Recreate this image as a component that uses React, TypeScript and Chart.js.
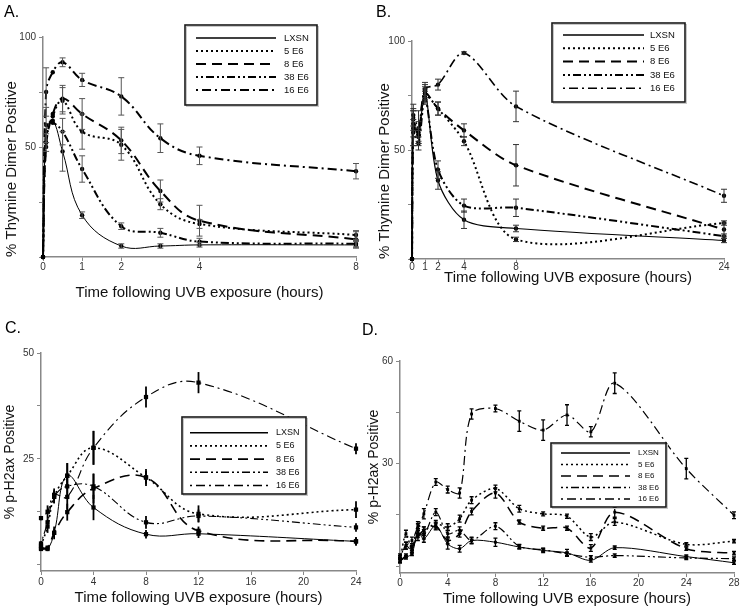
import React, { useEffect, useRef } from "react";
import { Chart, registerables } from "chart.js";

Chart.register(...registerables);

const FONT = "'Liberation Sans', Arial, Helvetica, sans-serif";
const NARROW = "'Liberation Sans Narrow', 'Liberation Sans', Arial, sans-serif";

const seriesLabels = ["LXSN", "5 E6", "8 E6", "38 E6", "16 E6"];

// ---------- Panel A: thymine dimers, 0-8 h ----------
const timeA = [0, 0.08, 0.25, 0.5, 1, 2, 3, 4, 8];
const lxsnA = [0, 57, 62, 48, 19, 5, 5, 5.5, 5.5];
const e5A = [0, 52, 64, 71, 57, 51, 24, 15, 10];
const e8A = [0, 50, 65, 72, 65, 53, 30, 16.5, 8];
const e38A = [0, 60, 61, 57, 40, 14, 11, 7, 6];
const e16A = [0, 75, 84, 88.5, 80.5, 73, 54, 46, 39];
const errLxsnA = [0, 0, 0, 9, 1.5, 1, 1, 1, 1.5];
const err5A = [0, 4, 0, 6, 8, 7, 2.5, 2, 2];
const err8A = [0, 0, 0, 6, 7, 6, 5, 7, 3.5];
const err38A = [0, 8, 0, 6, 6, 1.5, 2, 1.5, 1.5];
const err16A = [0, 11, 0, 2, 3, 8.5, 6.5, 4, 3.5];
const xTicksA = [0, 1, 2, 4, 8];
const yTicksA = [0, 25, 50, 75, 100];
const yLabelsA = [50, 100];

// ---------- Panel B: thymine dimers, 0-24 h ----------
const timeB = [0, 0.1, 0.5, 1, 2, 4, 8, 24];
const lxsnB = [0, 62, 57, 77, 36, 18, 14, 8.5];
const e5B = [0, 64, 56, 75, 69, 54, 9, 16.5];
const e8B = [0, 60, 58, 76, 69, 59, 43, 13.5];
const e38B = [0, 58, 53, 74, 41, 24.5, 23.5, 10.5];
const e16B = [0, 66, 60, 78, 80, 94.5, 70, 29];
const errLxsnB = [0, 6, 3, 3, 4, 4, 1.5, 1];
const err5B = [0, 5, 3, 3, 3, 2, 1, 1];
const err8B = [0, 8, 5, 3, 3, 3, 9.5, 3];
const err38B = [0, 6, 3, 3, 4, 3, 4, 1];
const err16B = [0, 5, 8, 3, 2.5, 0.5, 7, 3];
const xTicksB = [0, 1, 2, 4, 8, 24];
const yTicksB = [0, 25, 50, 75, 100];
const yLabelsB = [50, 100];

// ---------- Panel C: p-H2ax, 0-24 h ----------
const timeC = [0, 0.5, 1, 2, 4, 8, 12, 24];
const lxsnC = [3.7, 3.7, 7.5, 21, 13.5, 7.2, 7.3, 5.5];
const e5C = [4.5, 9, 16, 21, 27.6, 20.6, 12, 13];
const e8C = [4, 4, 7.5, 12.4, 18, 20.6, 8, 5.5];
const e38C = [5, 10, 16, 18.5, 18.5, 10, 11.5, 8.8];
const e16C = [11, 12.5, 16.5, 16, 27.6, 39.6, 43, 27.4];
const errLxsnC = [0.5, 0.5, 1, 3, 3, 1, 1, 1];
const err5C = [0.5, 1.5, 1.5, 3, 4, 2, 2, 2];
const err8C = [0.5, 0.5, 1.5, 2, 3.5, 1.5, 1, 1];
const err38C = [0.5, 1, 1.5, 3, 3, 1.5, 1.5, 1];
const err16C = [0.5, 1.5, 1.5, 3, 4, 2.5, 2.5, 1.3];
const xTicksC = [0, 4, 8, 12, 16, 20, 24];
const yTicksC = [0, 12.5, 25, 37.5, 50];
const yLabelsC = [25, 50];

// ---------- Panel D: p-H2ax, 0-28 h ----------
const timeD = [0, 0.5, 1, 1.5, 2, 3, 4, 5, 6, 8, 10, 12, 14, 16, 18, 24, 28];
const lxsnD = [1.5, 2.6, 3.6, 10, 8, 11.9, 6.5, 5.1, 7.5, 7, 5.6, 4.6, 3.9, 1.7, 5.4, 2.8, 1];
const e5D = [1.7, 9.5, 5, 12, 10.5, 12.4, 11.4, 13.9, 19.3, 22.7, 16.8, 15.3, 14.6, 8.5, 12.9, 6.4, 7.3];
const e8D = [1.5, 3.1, 5.6, 8.5, 10.5, 11.6, 7.5, 9.5, 16, 21.4, 12.9, 11.1, 11.1, 5.3, 15.8, 5.1, 3.8];
const e38D = [2.6, 6, 4.6, 9.5, 9, 15.8, 9.5, 10.5, 7.5, 11.7, 5.8, 4.8, 3.6, 2.6, 3.1, 2.4, 2.2];
const e16D = [3.1, 6, 7.5, 11.4, 15.3, 24.6, 22.4, 21.4, 44.5, 46.1, 42.4, 39.8, 44.2, 39.3, 53.5, 28.5, 14.9];
const errLxsnD = [0.5, 0.5, 0.5, 1, 1, 1, 1.5, 1, 0.8, 1.2, 0.6, 0.6, 1, 0.5, 0.5, 0.5, 0.5];
const err5D = [0.5, 1, 1, 1, 1, 1, 1, 1, 1, 1, 1, 0.6, 0.6, 1, 1, 0.5, 0.5];
const err8D = [0.5, 0.5, 1, 1, 1, 1, 1, 1, 1, 1.5, 0.6, 0.6, 0.6, 1, 1.5, 0.5, 0.5];
const err38D = [0.5, 1, 1, 1, 1, 1, 1, 1, 1, 1, 0.6, 0.5, 0.5, 0.5, 0.5, 0.5, 0.5];
const err16D = [0.5, 1, 1, 1, 1.5, 1, 1, 1.5, 1.5, 1, 3, 3, 3, 1.5, 3, 3, 1];
const xTicksD = [0, 4, 8, 12, 16, 20, 24, 28];
const yTicksD = [0, 15, 30, 45, 60];
const yLabelsD = [30, 60];

const X_TITLE = "Time following UVB exposure (hours)";

// line dash styles per series (LXSN, 5 E6, 8 E6, 38 E6, 16 E6)
const DASHES: number[][] = [[], [2, 3], [10, 6], [2, 3, 2, 3, 8, 3], [2, 4, 9, 4]];

const errorBarPlugin = {
  id: "errorBars",
  afterDatasetsDraw(chart: any, _args: any, opts: any) {
    const ctx = chart.ctx;
    const yScale = chart.scales.y;
    ctx.save();
    ctx.setLineDash([]);
    ctx.strokeStyle = opts.color;
    ctx.lineWidth = opts.width;
    chart.data.datasets.forEach((ds: any, i: number) => {
      const meta = chart.getDatasetMeta(i);
      const errs: number[] = ds.errors || [];
      meta.data.forEach((pt: any, j: number) => {
        const e = errs[j];
        if (!e) return;
        const v = ds.data[j].y;
        const yt = yScale.getPixelForValue(v + e);
        const yb = yScale.getPixelForValue(v - e);
        ctx.beginPath();
        ctx.moveTo(pt.x, yt);
        ctx.lineTo(pt.x, yb);
        if (opts.cap > 0) {
          ctx.moveTo(pt.x - opts.cap, yt);
          ctx.lineTo(pt.x + opts.cap, yt);
          ctx.moveTo(pt.x - opts.cap, yb);
          ctx.lineTo(pt.x + opts.cap, yb);
        }
        ctx.stroke();
      });
    });
    ctx.restore();
  },
};

const boxLegendPlugin = {
  id: "boxLegend",
  afterDraw(chart: any, _args: any, o: any) {
    const ctx = chart.ctx;
    ctx.save();
    ctx.fillStyle = "#ffffff";
    ctx.fillRect(o.x, o.y, o.w, o.h);
    ctx.setLineDash([]);
    ctx.strokeStyle = "#c8c8c8";
    ctx.lineWidth = 1;
    ctx.strokeRect(o.x + 1.5, o.y + 1.5, o.w, o.h);
    ctx.strokeStyle = "#1a1a1a";
    ctx.lineWidth = 1.6;
    ctx.strokeRect(o.x, o.y, o.w, o.h);
    chart.data.datasets.forEach((ds: any, i: number) => {
      const y = o.rowY + i * o.rowStep;
      ctx.setLineDash(ds.borderDash || []);
      ctx.lineWidth = Math.max(1.5, ds.borderWidth);
      ctx.strokeStyle = "#000";
      ctx.beginPath();
      ctx.moveTo(o.lineX0, y);
      ctx.lineTo(o.lineX1, y);
      ctx.stroke();
      ctx.setLineDash([]);
      ctx.fillStyle = "#111";
      ctx.font = `${o.fontSize}px ${NARROW}`;
      ctx.textBaseline = "middle";
      ctx.textAlign = "left";
      ctx.fillText(ds.label, o.textX, y);
    });
    ctx.restore();
  },
};

type PanelSpec = {
  rect: { left: number; top: number; w: number; h: number };
  letter: string;
  letterPad: { top: number; bottom: number };
  padLeft: number;
  padRight: number;
  yWidth: number;
  xHeight: number;
  times: number[];
  values: number[][];
  errors: number[][];
  xMax: number;
  xTicks: number[];
  yMin: number;
  yMax: number;
  yTicks: number[];
  yLabels: number[];
  yTitle: string;
  yTitleSize: number;
  yTitleAlign: "start" | "center" | "end";
  yTitlePad: number;
  xTitlePad: number;
  xTickPad: number;
  widths: number[];
  pointStyle: string;
  pointRadius: number;
  tension: number;
  err: { color: string; width: number; cap: number };
  legend: any;
};

const panels: PanelSpec[] = [
  {
    rect: { left: 0, top: 0, w: 371, h: 305 },
    letter: "A.",
    letterPad: { top: 3, bottom: 14.8 },
    padLeft: 4,
    padRight: 15,
    yWidth: 39,
    xHeight: 48,
    times: timeA,
    values: [lxsnA, e5A, e8A, e38A, e16A],
    errors: [errLxsnA, err5A, err8A, err38A, err16A],
    xMax: 8,
    xTicks: xTicksA,
    yMin: 0,
    yMax: 100,
    yTicks: yTicksA,
    yLabels: yLabelsA,
    yTitle: "% Thymine Dimer Positive",
    yTitleSize: 15,
    yTitleAlign: "start",
    yTitlePad: -1,
    xTitlePad: 3,
    xTickPad: 0,
    widths: [1, 2, 2, 2, 2],
    pointStyle: "circle",
    pointRadius: 2.2,
    tension: 0.4,
    err: { color: "#555", width: 1, cap: 3 },
    legend: { x: 185, y: 25, w: 132, h: 80, lineX0: 196, lineX1: 276, textX: 284, rowY: 38, rowStep: 13, fontSize: 9.5 },
  },
  {
    rect: { left: 371, top: 0, w: 371, h: 305 },
    letter: "B.",
    letterPad: { top: 3, bottom: 18.8 },
    padLeft: 5,
    padRight: 18,
    yWidth: 36,
    xHeight: 46,
    times: timeB,
    values: [lxsnB, e5B, e8B, e38B, e16B],
    errors: [errLxsnB, err5B, err8B, err38B, err16B],
    xMax: 24,
    xTicks: xTicksB,
    yMin: 0,
    yMax: 100,
    yTicks: yTicksB,
    yLabels: yLabelsB,
    yTitle: "% Thymine Dimer Positive",
    yTitleSize: 15,
    yTitleAlign: "start",
    yTitlePad: 0,
    xTitlePad: 18,
    xTickPad: -2,
    widths: [1.2, 2, 2, 2, 1.6],
    pointStyle: "circle",
    pointRadius: 2.2,
    tension: 0.3,
    err: { color: "#333", width: 1, cap: 3 },
    legend: { x: 181, y: 23, w: 133, h: 79, lineX0: 192, lineX1: 273, textX: 279, rowY: 35, rowStep: 13.3, fontSize: 9.5 },
  },
  {
    rect: { left: 0, top: 305, w: 371, h: 306 },
    letter: "C.",
    letterPad: { top: 13.9, bottom: 14.9 },
    padLeft: 5,
    padRight: 15,
    yWidth: 36,
    xHeight: 40,
    times: timeC,
    values: [lxsnC, e5C, e8C, e38C, e16C],
    errors: [errLxsnC, err5C, err8C, err38C, err16C],
    xMax: 24,
    xTicks: xTicksC,
    yMin: -1.5,
    yMax: 50,
    yTicks: yTicksC,
    yLabels: yLabelsC,
    yTitle: "% p-H2ax Positive",
    yTitleSize: 14,
    yTitleAlign: "center",
    yTitlePad: -3.4,
    xTitlePad: 4,
    xTickPad: 1,
    widths: [1, 1.6, 1.6, 1.1, 1.1],
    pointStyle: "rect",
    pointRadius: 3,
    tension: 0.4,
    err: { color: "#000", width: 1.8, cap: 0 },
    legend: { x: 182, y: 112, w: 124, h: 77, lineX0: 190, lineX1: 268, textX: 276, rowY: 127.7, rowStep: 13.2, fontSize: 9 },
  },
  {
    rect: { left: 362, top: 305, w: 380, h: 306 },
    letter: "D.",
    letterPad: { top: 15.9, bottom: 20.9 },
    padLeft: 0,
    padRight: 8,
    yWidth: 38,
    xHeight: 38,
    times: timeD,
    values: [lxsnD, e5D, e8D, e38D, e16D],
    errors: [errLxsnD, err5D, err8D, err38D, err16D],
    xMax: 28,
    xTicks: xTicksD,
    yMin: -2,
    yMax: 60,
    yTicks: yTicksD,
    yLabels: yLabelsD,
    yTitle: "% p-H2ax Positive",
    yTitleSize: 14,
    yTitleAlign: "center",
    yTitlePad: 3.6,
    xTitlePad: 3,
    xTickPad: 0,
    widths: [1, 1.5, 1.5, 1.2, 1.2],
    pointStyle: "rect",
    pointRadius: 2,
    tension: 0.3,
    err: { color: "#000", width: 1.3, cap: 2 },
    legend: { x: 189, y: 138, w: 115, h: 64, lineX0: 199, lineX1: 268, textX: 276, rowY: 148, rowStep: 11.5, fontSize: 8 },
  },
];

function buildConfig(p: PanelSpec): any {
  const datasets = seriesLabels.map((label, i) => ({
    label,
    data: p.times.map((t, j) => ({ x: t, y: p.values[i][j] })),
    errors: p.errors[i],
    borderColor: "#000",
    backgroundColor: "#000",
    borderWidth: p.widths[i],
    borderDash: DASHES[i],
    borderCapStyle: "butt",
    tension: p.tension,
    fill: false,
    pointStyle: p.pointStyle,
    pointRadius: p.pointRadius,
    pointBackgroundColor: "#000",
    pointBorderColor: "#000",
    pointBorderWidth: 0,
    clip: false,
  }));
  const tickFont = { family: FONT, size: 10 };
  return {
    type: "line",
    data: { datasets },
    plugins: [errorBarPlugin, boxLegendPlugin],
    options: {
      responsive: false,
      animation: false,
      events: [],
      layout: { padding: { left: p.padLeft, right: p.padRight, top: 0, bottom: 0 } },
      plugins: {
        legend: { display: false },
        tooltip: { enabled: false },
        title: {
          display: true,
          text: p.letter,
          align: "start",
          color: "#000",
          font: { family: FONT, size: 16, weight: "normal" },
          padding: p.letterPad,
        },
        errorBars: p.err,
        boxLegend: p.legend,
      },
      scales: {
        x: {
          type: "linear",
          min: 0,
          max: p.xMax,
          afterBuildTicks: (s: any) => {
            s.ticks = p.xTicks.map((v) => ({ value: v }));
          },
          afterFit: (s: any) => {
            s.height = p.xHeight;
          },
          ticks: {
            autoSkip: false,
            maxRotation: 0,
            font: tickFont,
            color: "#333",
            padding: p.xTickPad,
            callback: (v: any) => String(v),
          },
          grid: { drawOnChartArea: false, drawTicks: true, tickLength: 4, color: "#888", lineWidth: 1 },
          border: { display: true, color: "#888", width: 1.5 },
          title: {
            display: true,
            text: X_TITLE,
            color: "#111",
            font: { family: FONT, size: 15 },
            padding: { top: 0, bottom: p.xTitlePad },
          },
        },
        y: {
          type: "linear",
          min: p.yMin,
          max: p.yMax,
          afterBuildTicks: (s: any) => {
            s.ticks = p.yTicks.map((v) => ({ value: v }));
          },
          afterFit: (s: any) => {
            s.width = p.yWidth;
          },
          ticks: {
            autoSkip: false,
            font: tickFont,
            color: "#333",
            padding: 3,
            callback: (v: any) => (p.yLabels.includes(v) ? String(v) : ""),
          },
          grid: { drawOnChartArea: false, drawTicks: true, tickLength: 4, color: "#888", lineWidth: 1 },
          border: { display: true, color: "#888", width: 1.5 },
          title: {
            display: true,
            text: p.yTitle,
            align: p.yTitleAlign,
            color: "#111",
            font: { family: FONT, size: p.yTitleSize },
            padding: { top: p.yTitlePad, bottom: 0 },
          },
        },
      },
    },
  };
}

function Panel({ spec }: { spec: PanelSpec }) {
  const ref = useRef<HTMLCanvasElement | null>(null);
  useEffect(() => {
    if (!ref.current) return;
    const chart = new Chart(ref.current, buildConfig(spec));
    return () => chart.destroy();
  }, [spec]);
  const r = spec.rect;
  return (
    <canvas
      ref={ref}
      width={r.w}
      height={r.h}
      style={{ position: "absolute", left: r.left, top: r.top, width: r.w, height: r.h }}
    />
  );
}

export default function App() {
  return (
    <div style={{ position: "absolute", left: 0, top: 0, width: 742, height: 611, background: "#fff" }}>
      {panels.map((p) => (
        <Panel key={p.letter} spec={p} />
      ))}
    </div>
  );
}
